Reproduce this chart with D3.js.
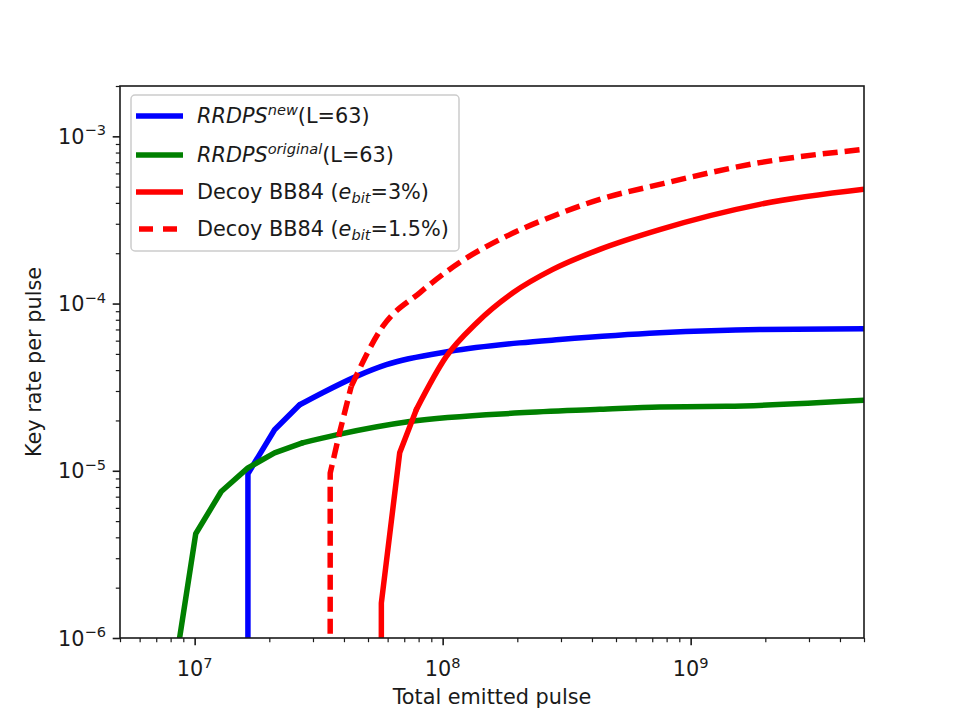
<!DOCTYPE html>
<html>
<head>
<meta charset="utf-8">
<script src="https://cdn.jsdelivr.net/npm/d3@7"></script>
<style>
  body { margin: 0; background: #fff; }
  svg text { font-family: "DejaVu Sans", sans-serif; fill: #1a1a1a; }
</style>
</head>
<body>
<svg id="chart" width="961" height="717"></svg>
<script>
// values (x = total emitted pulses, y = key rate per pulse)
// 1e-9 stands for a zero rate, it falls below the axis and gets clipped
var newX   = [1.639e7, 1.64e7, 2.10e7, 2.65e7, 3.28e7, 4.49e7, 5.93e7, 1.07e8, 2.04e8, 2.96e8, 7.5e8, 1.9e9, 5e9];
var newY   = [1e-9, 9.6e-6, 1.76e-5, 2.48e-5, 2.93e-5, 3.67e-5, 4.31e-5, 5.18e-5, 5.82e-5, 6.09e-5, 6.68e-5, 6.99e-5, 7.06e-5];

var origX  = [8.0e6, 1.01e7, 1.28e7, 1.64e7, 2.10e7, 2.72e7, 3.73e7, 7.36e7, 2.04e8, 4.3e8, 7.5e8, 1.39e9, 5e9];
var origY  = [4.5e-7, 4.2e-6, 7.52e-6, 1.04e-5, 1.28e-5, 1.47e-5, 1.64e-5, 1.97e-5, 2.22e-5, 2.33e-5, 2.41e-5, 2.43e-5, 2.64e-5];

var bb3X   = [5.65e7, 5.66e7, 6.71e7, 7.83e7, 1.035e8, 1.37e8, 1.92e8, 2.78e8, 4.30e8, 7.50e8, 1.90e9, 5e9];
var bb3Y   = [1e-9, 1.62e-6, 1.28e-5, 2.32e-5, 4.83e-5, 7.66e-5, 1.16e-4, 1.60e-4, 2.11e-4, 2.77e-4, 3.92e-4, 4.82e-4];

var bb15X  = [3.519e7, 3.52e7, 3.84e7, 4.28e7, 5.74e7, 8.08e7, 1.17e8, 1.81e8, 2.78e8, 4.30e8, 7.50e8, 1.90e9, 5e9];
var bb15Y  = [1e-9, 9.68e-6, 1.69e-5, 3.2e-5, 7.31e-5, 1.16e-4, 1.76e-4, 2.53e-4, 3.33e-4, 4.2e-4, 5.16e-4, 6.96e-4, 8.36e-4];

var xMajor = [1e7, 1e8, 1e9];
var xExp   = ["7", "8", "9"];
var yMajor = [1e-6, 1e-5, 1e-4, 1e-3];
var yExp   = ["\u22126", "\u22125", "\u22124", "\u22123"];

var seriesNames = ["new", "original", "3%", "1.5%"];

function drawChart(){
	var padL = 120, padR = 864, padT = 86, padB = 638;
	var fs = "20.8px", fsSmall = "14.6px";

	var svg = d3.select("#chart");
	var x = d3.scaleLog().domain([5e6, 5e9]).range([padL, padR]);
	var y = d3.scaleLog().domain([1e-6, 2e-3]).range([padB, padT]);

	svg.append("rect").attr("width", 961).attr("height", 717).style("fill", "#fff");

	svg.append("clipPath").attr("id", "plotclip")
		.append("rect")
		.attr("x", padL).attr("y", padT)
		.attr("width", padR - padL).attr("height", padB - padT);

	function zipPts(xs, ys){
		return xs.map(function(v, i){ return [v, ys[i]]; });
	}

	// sharp polyline where the curves bend hard, smooth after that
	var lineSharp = d3.line()
		.x(function(d){ return x(d[0]); })
		.y(function(d){ return y(d[1]); });
	var lineSmooth = d3.line()
		.curve(d3.curveMonotoneX)
		.x(function(d){ return x(d[0]); })
		.y(function(d){ return y(d[1]); });

	var series = [
		{pts: zipPts(newX, newY),   color: "#0000ff", dash: null,   split: 3},
		{pts: zipPts(origX, origY), color: "#008000", dash: null,   split: 5},
		{pts: zipPts(bb3X, bb3Y),   color: "#ff0000", dash: null,   split: 3},
		{pts: zipPts(bb15X, bb15Y), color: "#ff0000", dash: "15,7", split: 3}
	];

	var plot = svg.append("g").attr("clip-path", "url(#plotclip)");
	series.forEach(function(s){
		var parts = [
			{d: lineSharp(s.pts.slice(0, s.split + 1))},
			{d: lineSmooth(s.pts.slice(s.split))}
		];
		parts.forEach(function(p){
			plot.append("path")
				.attr("d", p.d)
				.style("fill", "none")
				.style("stroke", s.color)
				.style("stroke-width", 5.5)
				.style("stroke-linejoin", "round")
				.style("stroke-linecap", s.dash ? "butt" : "round")
				.style("stroke-dasharray", s.dash);
		});
	});

	// minor ticks: the log scale's own 1..9 ticks minus the decades
	var xMinor = x.ticks().filter(function(t){ return xMajor.indexOf(t) < 0; });
	var yMinor = y.ticks().filter(function(t){ return yMajor.indexOf(t) < 0; });

	var xAxisG = svg.append("g").attr("transform", "translate(0," + padB + ")");
	xAxisG.append("g").call(d3.axisBottom(x).tickValues(xMinor).tickFormat("").tickSizeInner(4.2).tickSizeOuter(0))
		.selectAll("line").style("stroke-width", 1.2);
	xAxisG.append("g").call(d3.axisBottom(x).tickValues(xMajor).tickFormat("").tickSizeInner(7.3).tickSizeOuter(0))
		.selectAll("line").style("stroke-width", 1.6);

	var yAxisG = svg.append("g").attr("transform", "translate(" + padL + ",0)");
	yAxisG.append("g").call(d3.axisLeft(y).tickValues(yMinor).tickFormat("").tickSizeInner(4.2).tickSizeOuter(0))
		.selectAll("line").style("stroke-width", 1.2);
	yAxisG.append("g").call(d3.axisLeft(y).tickValues(yMajor).tickFormat("").tickSizeInner(7.3).tickSizeOuter(0))
		.selectAll("line").style("stroke-width", 1.6);

	svg.selectAll("path.domain").remove();
	svg.selectAll(".tick line").style("stroke", "#1a1a1a");

	// tick labels with superscript exponents
	xMajor.forEach(function(v, i){
		var t = svg.append("text")
			.attr("x", x(v)).attr("y", 676)
			.attr("text-anchor", "middle")
			.style("font-size", fs);
		t.append("tspan").text("10");
		t.append("tspan").attr("dy", -8.5).style("font-size", fsSmall).text(xExp[i]);
	});
	yMajor.forEach(function(v, i){
		var t = svg.append("text")
			.attr("x", 106).attr("y", y(v) + 7.5)
			.attr("text-anchor", "end")
			.style("font-size", fs);
		t.append("tspan").text("10");
		t.append("tspan").attr("dy", -8.5).style("font-size", fsSmall).text(yExp[i]);
	});

	// frame
	svg.append("rect")
		.attr("x", padL).attr("y", padT)
		.attr("width", padR - padL).attr("height", padB - padT)
		.style("fill", "none")
		.style("stroke", "#1a1a1a")
		.style("stroke-width", 1.6);

	svg.append("text")
		.attr("x", (padL + padR) / 2).attr("y", 704)
		.attr("text-anchor", "middle")
		.style("font-size", fs)
		.text("Total emitted pulse");

	svg.append("text")
		.attr("transform", "translate(41," + ((padT + padB) / 2) + ") rotate(-90)")
		.attr("text-anchor", "middle")
		.style("font-size", fs)
		.text("Key rate per pulse");

	// legend
	var lg = svg.append("g");
	lg.append("rect")
		.attr("x", 131).attr("y", 95)
		.attr("width", 328).attr("height", 156)
		.attr("rx", 4).attr("ry", 4)
		.style("fill", "#fff").style("fill-opacity", 0.8)
		.style("stroke", "#cccccc").style("stroke-width", 1.5);

	var rowY = [116, 155, 192, 229];
	series.forEach(function(s, i){
		lg.append("line")
			.attr("x1", 136).attr("x2", 183)
			.attr("y1", rowY[i]).attr("y2", rowY[i])
			.style("stroke", s.color)
			.style("stroke-width", 5.5)
			.style("stroke-dasharray", s.dash ? "14,10" : null)
			.style("stroke-dashoffset", s.dash ? -3 : null);

		var t = lg.append("text")
			.attr("x", 197).attr("y", rowY[i] + 7)
			.style("font-size", fs);
		if(i < 2){
			t.append("tspan").style("font-style", "italic").text("RRDPS");
			t.append("tspan").attr("dy", -8.5).style("font-size", fsSmall).style("font-style", "italic").text(seriesNames[i]);
			t.append("tspan").attr("dy", 8.5).text("(L=63)");
		}else{
			t.append("tspan").text("Decoy BB84 (");
			t.append("tspan").style("font-style", "italic").text("e");
			t.append("tspan").attr("dy", 4).style("font-size", fsSmall).style("font-style", "italic").text("bit");
			t.append("tspan").attr("dy", -4).text("=" + seriesNames[i] + ")");
		}
	});
}

drawChart();
</script>
</body>
</html>
